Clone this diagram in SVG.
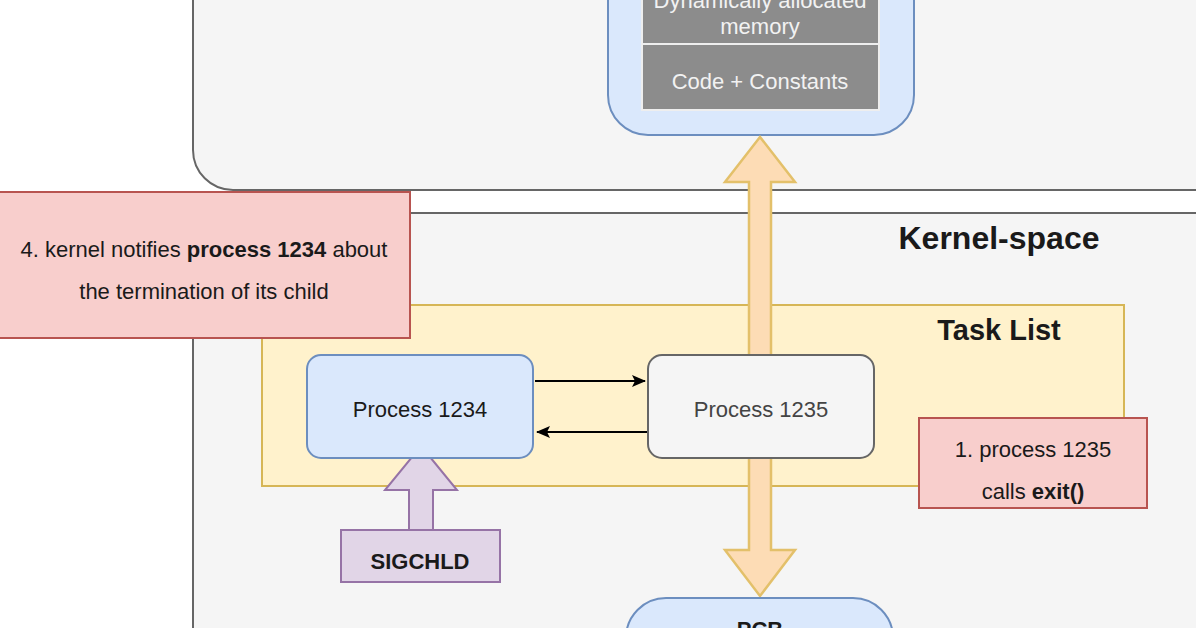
<svg xmlns="http://www.w3.org/2000/svg" width="1196" height="628" viewBox="0 0 1196 628">
<style>
text{font-family:"Liberation Sans",Arial,sans-serif;font-size:22px;text-anchor:middle;fill:#1a1a1a}
.b{font-weight:bold}
.w{fill:#f2f2f2}
.cont{fill:#f5f5f5;stroke:#666;stroke-width:2}
.blue{fill:#dae8fc;stroke:#6c8ebf;stroke-width:2}
.gray{fill:#f5f5f5;stroke:#666;stroke-width:2}
.red{fill:#f8cecc;stroke:#b85450;stroke-width:2}
.cell{fill:#8c8c8c;stroke:#eee;stroke-width:2}
</style>
<defs><marker id="ah" markerWidth="14" markerHeight="14" refX="13" refY="7" orient="auto" markerUnits="userSpaceOnUse"><path d="M0,1 L14,7 L0,13 L3,7 Z" fill="#000"/></marker></defs>
<g id="user-space"><rect class="cont" x="193" y="-60" width="1060" height="250" rx="40"/></g>
<g id="memory">
<rect class="blue" x="608" y="-60" width="306" height="195" rx="40"/>
<rect class="cell" x="642" y="-30" width="237" height="74"/>
<rect class="cell" x="642" y="44" width="237" height="66"/>
<text class="w" x="760" y="8">Dynamically allocated</text>
<text class="w" x="760" y="34">memory</text>
<text class="w" x="760" y="89">Code + Constants</text>
</g>
<g id="kernel-space"><rect class="cont" x="193" y="213" width="1060" height="480" rx="40"/>
<text class="b" x="999" y="249" style="font-size:32px">Kernel-space</text></g>
<g id="task-list"><rect x="262" y="305" width="862" height="181" fill="#fff2cc" stroke="#d6b656" stroke-width="2"/>
<text class="b" x="999" y="340" style="font-size:29px">Task List</text></g>
<g id="connectors">
<path d="M760,137 L795,182 L771,182 L771,550 L795,550 L760,596 L725,550 L749,550 L749,182 L725,182 Z" fill="#fddcb5" stroke="#e3c06a" stroke-width="2.5"/>
<line x1="535" y1="381" x2="645" y2="381" stroke="#000" stroke-width="2" marker-end="url(#ah)"/>
<line x1="647" y1="432" x2="537" y2="432" stroke="#000" stroke-width="2" marker-end="url(#ah)"/>
<path d="M421,446 L457,490 L433,490 L433,530 L409,530 L409,490 L385,490 Z" fill="#e1d5e7" stroke="#9673a6" stroke-width="2"/>
</g>
<g id="p1234"><rect class="blue" x="307" y="355" width="226" height="103" rx="14"/><text x="420" y="417">Process 1234</text></g>
<g id="p1235"><rect class="gray" x="648" y="355" width="226" height="103" rx="14"/><text x="761" y="417" style="fill:#444">Process 1235</text></g>
<g id="note4"><rect class="red" x="-2" y="192" width="412" height="146"/>
<text x="204" y="257">4. kernel notifies <tspan class="b">process 1234</tspan> about</text>
<text x="204" y="299">the termination of its child</text></g>
<g id="note1"><rect class="red" x="919" y="418" width="228" height="90"/>
<text x="1033" y="457">1. process 1235</text>
<text x="1033" y="499">calls <tspan class="b">exit()</tspan></text></g>
<g id="sigchld"><rect x="341" y="530" width="159" height="52" fill="#e1d5e7" stroke="#9673a6" stroke-width="2"/><text class="b" x="420" y="569">SIGCHLD</text></g>
<g id="pcb"><rect class="blue" x="626" y="598" width="267" height="100" rx="40"/><text class="b" x="760" y="637">PCB</text></g>
</svg>
